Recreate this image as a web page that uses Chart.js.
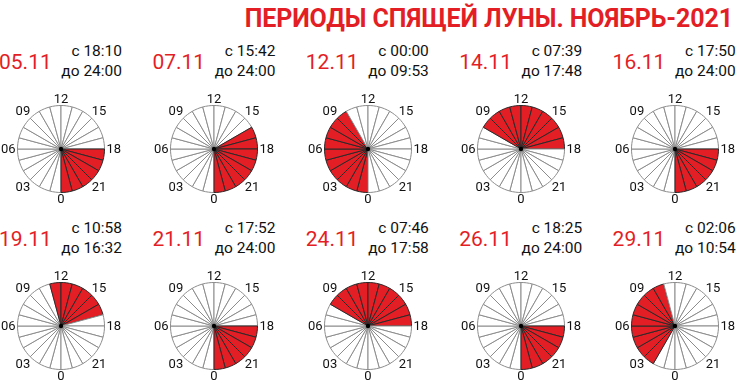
<!DOCTYPE html>
<html><head><meta charset="utf-8">
<script src="https://cdn.jsdelivr.net/npm/chart.js@4.4.0/dist/chart.umd.min.js"></script>
<style>
html,body{margin:0;padding:0;background:#fff;overflow:hidden;}
#wrap{position:relative;width:737px;height:382px;font-family:Roboto,sans-serif;}
.t{position:absolute;white-space:nowrap;}
#title{font-weight:bold;font-size:25px;line-height:25px;color:#e31e25;right:4px;top:6px;letter-spacing:-0.1px;}
.date{font-size:21px;line-height:21px;color:#e31e25;}
.time{font-size:15.5px;line-height:15.5px;color:#111;text-align:right;}
canvas{position:absolute;}
</style></head>
<body><div id="wrap"><div id="title" class="t">ПЕРИОДЫ СПЯЩЕЙ ЛУНЫ. НОЯБРЬ-2021</div></div>
<script>
// ---- data ----
const dates = ['05.11','07.11','12.11','14.11','16.11','19.11','21.11','24.11','26.11','29.11'];
const fromTimes = ['18:10','15:42','00:00','07:39','17:50','10:58','17:52','07:46','18:25','02:06'];
const toTimes = ['24:00','24:00','09:53','17:48','24:00','16:32','24:00','17:58','24:00','10:54'];
// shaded hour sectors (whole hours as drawn)
const redFromHour = [18,16,0,8,18,11,18,8,18,2];
const redToHour   = [24,24,10,18,24,17,24,18,24,11];
const hourLabels = ['0','1','2','3','4','5','6','7','8','9','10','11','12','13','14','15','16','17','18','19','20','21','22','23'];
const tickHours = [0,3,6,9,12,15,18,21];
const tickLabels = ['0','03','06','09','12','15','18','21'];

const RED = '#e31e25';
const wrap = document.getElementById('wrap');
const R = 43.5, SIZE = 140;

const labelPlugin = {
  id: 'clockLabels',
  afterDraw(chart) {
    const ctx = chart.ctx;
    const arc = chart.getDatasetMeta(0).data[0];
    const x = arc.x, y = arc.y, r = arc.outerRadius;
    ctx.save();
    ctx.fillStyle = '#000';
    ctx.beginPath(); ctx.arc(x, y, 2.2, 0, Math.PI*2); ctx.fill();
    ctx.font = '13px Roboto';
    ctx.fillStyle = '#111';
    ctx.textAlign = 'center';
    ctx.textBaseline = 'middle';
    tickHours.forEach((h, i) => {
      const a = Math.PI/2 + h*Math.PI/12;
      const txt = tickLabels[i];
      const hw = ctx.measureText(txt).width/2, hh = 4.5;
      const d = r + 2 + Math.abs(Math.cos(a))*hw + Math.abs(Math.sin(a))*hh;
      ctx.fillText(txt, x + Math.cos(a)*d, y + Math.sin(a)*d + 0.5);
    });
    ctx.restore();
  }
};

dates.forEach((dt, k) => {
  const col = k % 5, row = Math.floor(k / 5);
  const cx = 61 + col*153.4, cy = 149 + row*177;
  const oy = row*177;

  const d = document.createElement('div');
  d.className = 't date'; d.textContent = dt;
  d.style.left = (cx - 62) + 'px'; d.style.top = (52.3 + oy) + 'px';
  wrap.appendChild(d);

  const t1 = document.createElement('div');
  t1.className = 't time'; t1.textContent = 'с ' + fromTimes[k];
  t1.style.right = (737 - (cx + 61)) + 'px'; t1.style.top = (44 + oy) + 'px';
  wrap.appendChild(t1);
  const t2 = document.createElement('div');
  t2.className = 't time'; t2.textContent = 'до ' + toTimes[k];
  t2.style.right = (737 - (cx + 61)) + 'px'; t2.style.top = (64 + oy) + 'px';
  wrap.appendChild(t2);

  const c = document.createElement('canvas');
  c.width = SIZE; c.height = SIZE;
  c.style.width = SIZE + 'px'; c.style.height = SIZE + 'px';
  c.style.left = (cx - SIZE/2) + 'px'; c.style.top = (cy - SIZE/2) + 'px';
  wrap.appendChild(c);

  const isRed = hourLabels.map((_, h) => h >= redFromHour[k] && h < redToHour[k]);
  new Chart(c, {
    type: 'pie',
    data: {
      labels: hourLabels,
      datasets: [{
        data: hourLabels.map(() => 1),
        backgroundColor: isRed.map(v => v ? RED : '#ffffff'),
        borderColor: isRed.map(v => v ? '#2a2a2a' : '#8c8c8c'),
        borderWidth: 1,
        radius: R
      }]
    },
    options: {
      responsive: false,
      animation: false,
      rotation: 180,
      layout: { padding: 0 },
      plugins: { legend: { display: false }, tooltip: { enabled: false }, title: { display: false } },
      events: []
    },
    plugins: [labelPlugin]
  });
});
</script></body></html>
